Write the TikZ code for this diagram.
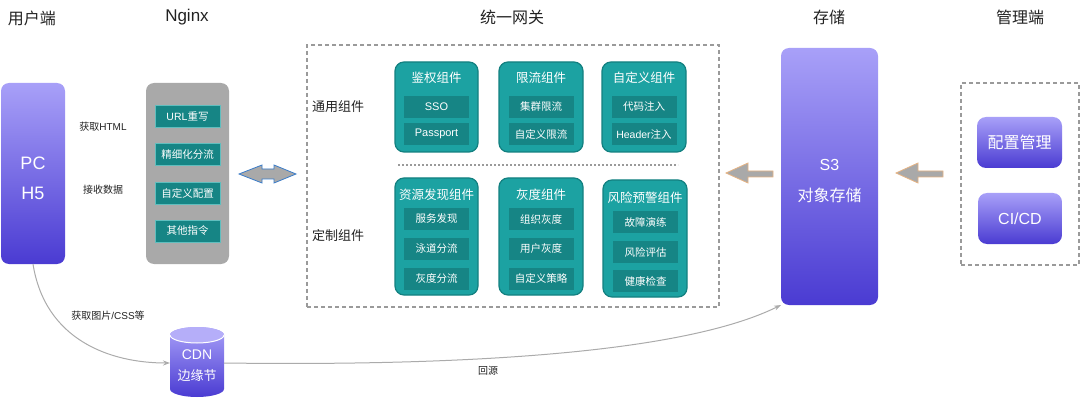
\documentclass[tikz,border=0pt]{standalone}
\usepackage{fontspec}
\setmainfont{Noto Sans CJK SC}
\newfontfamily\lat{Liberation Sans}
\usetikzlibrary{arrows.meta}
\definecolor{pTop}{HTML}{A8A0F8}
\definecolor{pBot}{HTML}{4A3BD2}
\definecolor{grp}{HTML}{1CA2A2}
\definecolor{grpB}{HTML}{138080}
\definecolor{inr}{HTML}{168585}
\definecolor{ngx}{HTML}{A9A9A9}
\definecolor{dsh}{HTML}{9A9A9A}
\definecolor{txt}{HTML}{222222}
\definecolor{conn}{HTML}{ABABAB}
\definecolor{blu}{HTML}{3A7CC9}
\definecolor{org}{HTML}{E6B383}
\newcommand{\fs}[1]{\fontsize{#1pt}{#1pt}\selectfont}
\tikzset{
  every node/.style={inner sep=0pt, outer sep=0pt},
  ttl/.style={text=txt, font=\fs{16}},
  lbl/.style={text=txt, font=\fs{10}},
  sec/.style={text=txt, font=\fs{13}},
  purp/.style={rounded corners=8pt, top color=pTop, bottom color=pBot, draw=none},
  wtxt/.style={text=white},
  ngxbox/.style={rounded corners=8pt, fill=ngx, draw=none, minimum width=83pt, minimum height=181pt},
  ngxin/.style={fill=inr, draw=grp!70!white, line width=0.6pt, minimum width=65pt, minimum height=22pt, text=white, font=\fs{10.5}},
  grpbox/.style={rounded corners=9pt, fill=grp, draw=grpB, line width=1.2pt},
  grpttl/.style={text=white, font=\fs{12.5}},
  inbox/.style={fill=inr, draw=none, minimum width=65pt, minimum height=22pt, text=white, font=\fs{10.5}},
  dbox/.style={draw=dsh, line width=1.3pt, dash pattern=on 4pt off 3pt},
  conn/.style={draw=conn, line width=1pt, -{Stealth[length=7pt,width=5pt]}},
  blk/.style={fill=ngx, line width=0.8pt},
}
\begin{document}
\begin{tikzpicture}[x=1pt,y=-1pt]
\useasboundingbox (0,0) rectangle (1080,401);
% titles
\node[ttl] (t1) at (32,18) {用户端};
\node[ttl, font=\fs{17}\lat] (t2) at (187,17) {Nginx};
\node[ttl] (t3) at (512,17) {统一网关};
\node[ttl] (t4) at (829,17) {存储};
\node[ttl] (t5) at (1020,17) {管理端};
% user side
\node[purp, minimum width=64pt, minimum height=181pt] (pc) at (33,173.5) {};
\node[wtxt, font=\fs{18}\lat] (pcT) at (33,163) {PC};
\node[wtxt, font=\fs{18}\lat] (h5T) at (33,193) {H5};
\node[lbl] (l1) at (103,127) {获取{\lat HTML}};
\node[lbl] (l2) at (103,190) {接收数据};
% nginx
\node[ngxbox] (ngx) at (187.5,173.5) {};
\node[ngxin] (n1) at (187.5,116) {{\lat URL}重写};
\node[ngxin] (n2) at (187.5,154.5) {精细化分流};
\node[ngxin] (n3) at (187.5,193) {自定义配置};
\node[ngxin] (n4) at (187.5,231) {其他指令};
% double arrow
\draw[blk, draw=blu] (239,174) -- (262,165) -- (262,169) -- (274,169) -- (274,165) -- (296,174) -- (274,183) -- (274,179) -- (262,179) -- (262,183) -- cycle;
% gateway
\node[dbox, minimum width=412pt, minimum height=262pt] (gw) at (513,176) {};
\node[sec] (s1) at (338,107) {通用组件};
\node[sec] (s2) at (338,236) {定制组件};
\draw[dsh, line width=1.3pt, dash pattern=on 2pt off 2pt] (398,165) -- (678,165);
% row 1
\node[grpbox, minimum width=83pt, minimum height=90pt] (g1) at (436.5,107) {};
\node[grpttl] (g1t) at (436.5,78) {鉴权组件};
\node[inbox, font=\fs{11}\lat] (g1a) at (436.5,107) {SSO};
\node[inbox, font=\fs{11}\lat] (g1b) at (436.5,134) {Passport};
\node[grpbox, minimum width=84pt, minimum height=90pt] (g2) at (541,107) {};
\node[grpttl] (g2t) at (541,78) {限流组件};
\node[inbox] (g2a) at (541,107) {集群限流};
\node[inbox] (g2b) at (541,134) {自定义限流};
\node[grpbox, minimum width=84pt, minimum height=90pt] (g3) at (644,107) {};
\node[grpttl] (g3t) at (644,78) {自定义组件};
\node[inbox] (g3a) at (644,107) {代码注入};
\node[inbox] (g3b) at (644,134) {{\lat Header}注入};
% row 2
\node[grpbox, minimum width=83pt, minimum height=117pt] (g4) at (436.5,236.5) {};
\node[grpttl] (g4t) at (436.5,195) {资源发现组件};
\node[inbox] (g4a) at (436.5,219) {服务发现};
\node[inbox] (g4b) at (436.5,249) {泳道分流};
\node[inbox] (g4c) at (436.5,278.5) {灰度分流};
\node[grpbox, minimum width=84pt, minimum height=117pt] (g5) at (541,236.5) {};
\node[grpttl] (g5t) at (541,195) {灰度组件};
\node[inbox] (g5a) at (541,219) {组织灰度};
\node[inbox] (g5b) at (541,249) {用户灰度};
\node[inbox] (g5c) at (541,278.5) {自定义策略};
\node[grpbox, minimum width=84pt, minimum height=117pt] (g6) at (645,238.5) {};
\node[grpttl] (g6t) at (645,198) {风险预警组件};
\node[inbox] (g6a) at (645.5,222) {故障演练};
\node[inbox] (g6b) at (645.5,252) {风险评估};
\node[inbox] (g6c) at (645.5,281) {健康检查};
% storage
\node[purp, minimum width=97pt, minimum height=257pt] (st) at (829.5,176.5) {};
\node[wtxt, font=\fs{16}\lat] (stA) at (829.5,165) {S3};
\node[wtxt, font=\fs{16}] (stB) at (829.5,195) {对象存储};
% arrows storage -> gateway, mgmt -> storage
\draw[blk, draw=org] (726,173) -- (748,163) -- (748,171) -- (773,171) -- (773,177) -- (748,177) -- (748,183) -- cycle;
\draw[blk, draw=org] (896,173) -- (918,163) -- (918,171) -- (943,171) -- (943,177) -- (918,177) -- (918,183) -- cycle;
% management
\node[dbox, minimum width=118pt, minimum height=182pt] (mg) at (1020,174) {};
\node[purp, rounded corners=9pt, minimum width=85pt, minimum height=51pt, wtxt, font=\fs{16}] (m1) at (1019.5,142.5) {配置管理};
\node[purp, rounded corners=9pt, minimum width=84pt, minimum height=51pt, wtxt, font=\fs{16}\lat] (m2) at (1020,218.5) {CI/CD};
% CDN cylinder
\node[minimum width=54pt, minimum height=70pt] (cdn) at (197,363) {};
\path[top color=pTop, bottom color=pBot] (170,335) -- (170,389) arc[start angle=180, end angle=360, x radius=27pt, y radius=8pt] -- (224,335) arc[start angle=0, end angle=180, x radius=27pt, y radius=8pt] -- cycle;
\fill[pTop!85!white] (197,335) ellipse[x radius=27pt, y radius=8pt];
\draw[white, line width=1pt] (170,335) arc[start angle=180, end angle=360, x radius=27pt, y radius=8pt];
\node[wtxt, font=\fs{14}\lat] (cdnA) at (197,355) {CDN};
\node[wtxt, font=\fs{13}] (cdnB) at (197,376) {边缘节};
% connectors
\draw[conn] (pc.south) .. controls (45,340) and (110,363) .. (cdn.west);
\node[lbl] (l3) at (108,316) {获取图片{\lat /CSS}等};
\draw[conn] (cdn.east) .. controls (450,366) and (680,355) .. (st.south west);
\node[lbl] (l4) at (488,371) {回源};
\end{tikzpicture}
\end{document}
